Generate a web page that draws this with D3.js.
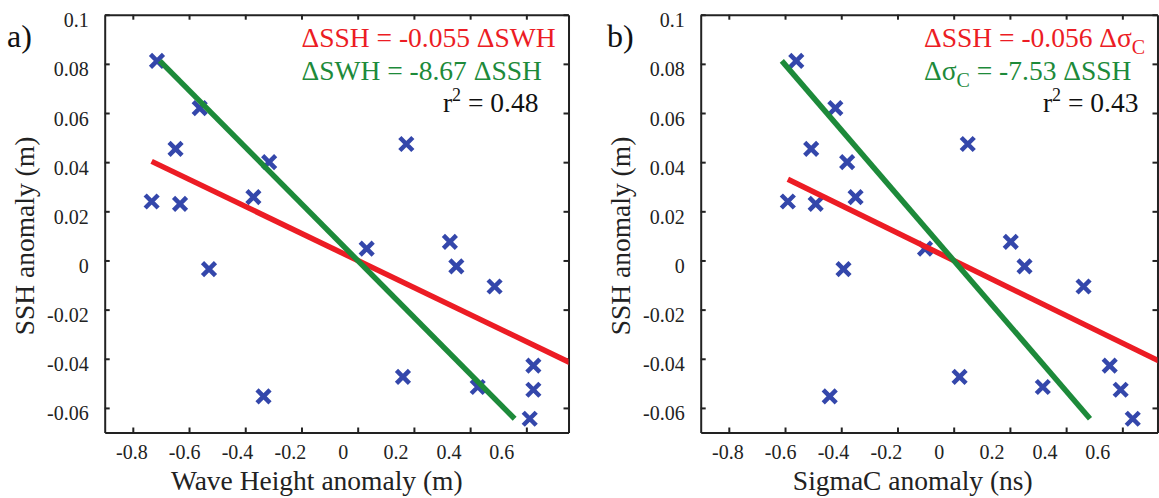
<!DOCTYPE html>
<meta charset="utf-8">
<head>
    <script src="https://d3js.org/d3.v7.min.js"></script>
    <style>
    body { margin: 0; background: white; }
    svg { background: white; }
    text { font-family: "Liberation Serif", "Times New Roman", serif; }
    .frame path, .frame line { stroke: #222; stroke-width: 2px; }
    .ylab text { font-size: 20px; fill: #222; }
    .xlab { font-size: 20px; fill: #222; }
    .title { font-size: 27.5px; fill: #222; }
    .eq { font-size: 27.5px; }
    </style>
</head>
<body>
<svg id="svgid" width="1159" height="498"></svg>
<script>
// data
var ssh    = [0.0812, 0.0620, 0.0454, 0.0400, 0.0240, 0.0230, 0.0258, 0.0474, 0.0076, 0.0048,
              -0.0035, -0.0024, -0.0106, -0.0553, -0.0474, -0.0515, -0.0428, -0.0526, -0.0644];
var swh    = [-0.714, -0.562, -0.648, -0.315, -0.733, -0.632, -0.371, 0.173, 0.328, 0.032,
              -0.529, 0.351, 0.487, -0.335, 0.161, 0.427, 0.625, 0.625, 0.612];
var sigmaC = [-0.560, -0.421, -0.507, -0.379, -0.590, -0.491, -0.349, 0.050, 0.203, -0.102,
              -0.392, 0.252, 0.462, -0.441, 0.021, 0.317, 0.555, 0.594, 0.637];

var xTicks = [-0.8, -0.6, -0.4, -0.2, 0, 0.2, 0.4, 0.6];
var yTicks = [-0.06, -0.04, -0.02, 0, 0.02, 0.04, 0.06, 0.08, 0.1];
var redSlope = [-0.055, -0.056];     // SSH = a * x
var greenSlope = [-8.67, -7.53];     // x = b * SSH
var rsq = ["0.48", "0.43"];
var panelNames = ["a)", "b)"];
var xTitles = ["Wave Height anomaly (m)", "SigmaC anomaly (ns)"];

var RED = "#ec1c24", GREEN = "#1d8a3a", BLUE = "#3447ab";

var svg = d3.select("#svgid");

// plain hyphen, like the original figure
function fmt(d) { return String(+d.toFixed(2)); }

var panels = [
    {xs: swh, left: 104.7, xmax: 0.75, eqX: 301.5, rX: 538.5, lab: 7},
    {xs: sigmaC, left: 700.7, xmax: 0.725, eqX: 924, rX: 1138.5, lab: 607}
];

var y = d3.scaleLinear().domain([-0.07, 0.1]).range([432.5, 14.7]);

panels.forEach(function(p, i) {
    var x = d3.scaleLinear().domain([-0.9, p.xmax])
        .range([p.left, p.left + (p.xmax + 0.9) * 281.1]);
    var x0 = x.range()[0], x1 = x.range()[1];
    var y0 = y.range()[0], y1 = y.range()[1];
    var g = svg.append("g");

    // frame with inward ticks on all sides
    g.append("g").attr("class", "frame").attr("transform", "translate(0," + y0 + ")")
        .call(d3.axisBottom(x).tickValues(xTicks).tickSize(-5).tickSizeOuter(0).tickFormat(""));
    g.append("g").attr("class", "frame").attr("transform", "translate(0," + y1 + ")")
        .call(d3.axisTop(x).tickValues(xTicks).tickSize(-5).tickSizeOuter(0).tickFormat(""));
    g.append("g").attr("class", "frame ylab").attr("transform", "translate(" + x0 + ",0)")
        .call(d3.axisLeft(y).tickValues(yTicks).tickSize(-5).tickSizeOuter(0).tickPadding(16)
            .tickFormat(fmt));
    g.append("g").attr("class", "frame").attr("transform", "translate(" + x1 + ",0)")
        .call(d3.axisRight(y).tickValues(yTicks).tickSize(-5).tickSizeOuter(0).tickFormat(""));
    g.selectAll(".domain").attr("fill", "none");
    g.selectAll(".frame").attr("font-family", null).attr("font-size", null);
    g.selectAll(".ylab text").attr("dy", "0.6em");

    // x tick labels sit slightly compressed relative to the tick marks
    var xl = d3.scaleLinear().domain([-0.8, 0.6])
        .range([x(-0.8) - 1, x(-0.8) - 1 + (x(0.6) - x(-0.8)) * 0.94]);
    g.selectAll(".xl").data(xTicks).enter().append("text")
        .attr("class", "xlab").attr("text-anchor", "middle")
        .attr("x", function(d) { return xl(d); }).attr("y", 459)
        .text(fmt);

    g.append("text").attr("class", "title").attr("text-anchor", "middle")
        .attr("x", xl(-0.1)).attr("y", 490).text(xTitles[i]);
    g.append("text").attr("class", "title").attr("text-anchor", "middle")
        .attr("transform", "translate(" + (x0 - 71) + "," + 236 + ") rotate(-90)")
        .text("SSH anomaly (m)");
    g.append("text").attr("x", p.lab).attr("y", 47).style("font-size", "32px")
        .style("fill", "#111").text(panelNames[i]);

    // markers
    var clipId = "clip" + i;
    g.append("clipPath").attr("id", clipId).append("rect")
        .attr("x", x0).attr("y", y1).attr("width", x1 - x0).attr("height", y0 - y1);
    var pts = p.xs.map(function(d, k) { return [d, ssh[k]]; });
    var s = 6.5;
    g.append("g").selectAll("path").data(pts).enter().append("path")
        .attr("d", function(d) {
            var cx = x(d[0]), cy = y(d[1]);
            return "M" + (cx - s) + "," + (cy - s) + "L" + (cx + s) + "," + (cy + s) +
                   "M" + (cx - s) + "," + (cy + s) + "L" + (cx + s) + "," + (cy - s);
        })
        .style("stroke", BLUE).style("stroke-width", 4.5).style("fill", "none");

    // fit lines
    var line = d3.line().x(function(d) { return x(d[0]); }).y(function(d) { return y(d[1]); });
    var xmin = d3.min(p.xs);
    var redPts = [[xmin, redSlope[i] * xmin], [p.xmax + 0.05, redSlope[i] * (p.xmax + 0.05)]];
    var ymax = d3.max(ssh), ymin = d3.min(ssh);
    var greenPts = [[greenSlope[i] * ymax, ymax], [greenSlope[i] * ymin, ymin]];
    var lg = g.append("g").attr("clip-path", "url(#" + clipId + ")");
    lg.append("path").attr("d", line(redPts)).style("stroke", RED).style("stroke-width", 5.5).style("fill", "none");
    lg.append("path").attr("d", line(greenPts)).style("stroke", GREEN).style("stroke-width", 5.5).style("fill", "none");

    // equations
    var t1 = g.append("text").attr("class", "eq").attr("x", p.eqX).attr("y", 46.7).style("fill", RED);
    var t2 = g.append("text").attr("class", "eq").attr("x", p.eqX).attr("y", 80).style("fill", GREEN);
    if (i === 0) {
        t1.text("\u0394SSH = " + redSlope[i] + " \u0394SWH");
        t2.text("\u0394SWH = " + greenSlope[i] + " \u0394SSH");
    } else {
        t1.text("\u0394SSH = " + redSlope[i] + " \u0394\u03c3");
        t1.append("tspan").attr("dy", 7).style("font-size", "20px").text("C");
        t2.text("\u0394\u03c3");
        t2.append("tspan").attr("dy", 7).style("font-size", "20px").text("C");
        t2.append("tspan").attr("dy", -7).text(" = " + greenSlope[i] + " \u0394SSH");
    }
    var t3 = g.append("text").attr("class", "eq").attr("x", p.rX).attr("y", 111.7)
        .attr("text-anchor", "end").style("fill", "#111").text("r");
    t3.append("tspan").attr("dy", -11).style("font-size", "18px").text("2");
    t3.append("tspan").attr("dy", 11).text(" = " + rsq[i]);
});
</script>
</body>
